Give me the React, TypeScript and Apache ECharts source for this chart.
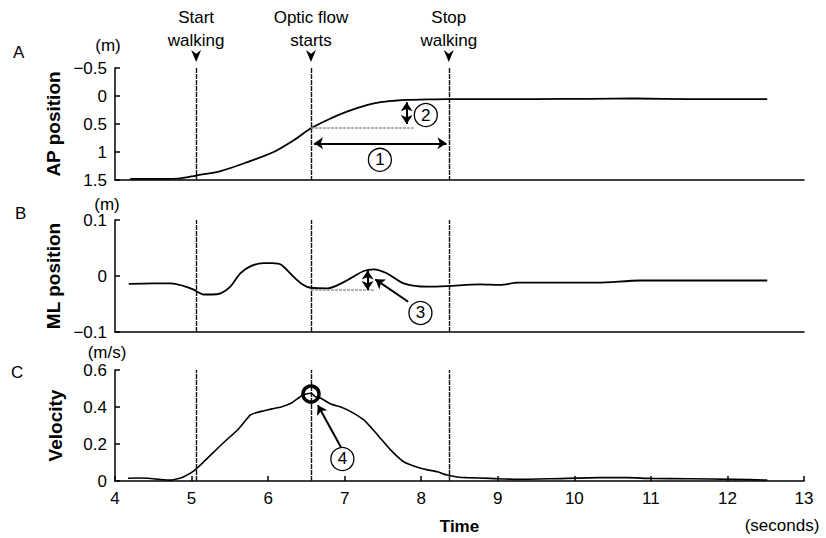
import React, { useEffect, useRef } from "react";
import * as echarts from "echarts";

const FONT = "'Liberation Sans', Arial, Helvetica, sans-serif";

// Event times (seconds)
const eventTimes = [5.06, 6.56, 8.36];
const eventLabels = ["Start\nwalking", "Optic flow\nstarts", "Stop\nwalking"];
const xTicks = { min: 4, max: 13, interval: 1 };

// Panel A: AP position (m), inverted axis
const apPosition: [number, number][] = [
  [4.2, 1.48], [4.6, 1.48], [4.86, 1.47], [5.06, 1.42], [5.38, 1.34], [5.73, 1.18],
  [6.08, 0.995], [6.34, 0.786], [6.56, 0.577], [6.82, 0.4], [7.03, 0.28], [7.3, 0.16],
  [7.47, 0.11], [7.65, 0.085], [7.82, 0.07], [8.1, 0.06], [8.34, 0.055], [9.5, 0.055],
  [10.2, 0.05], [10.8, 0.045], [11.5, 0.055], [12.52, 0.055],
];

// Panel B: ML position (m)
const mlPosition: [number, number][] = [
  [4.18, -0.014], [4.5, -0.013], [4.73, -0.013], [4.9, -0.018], [5.02, -0.024],
  [5.16, -0.033], [5.27, -0.033], [5.38, -0.031], [5.5, -0.02], [5.64, 0.005],
  [5.78, 0.018], [5.94, 0.023], [6.06, 0.023], [6.17, 0.02], [6.33, -0.001],
  [6.45, -0.015], [6.56, -0.021], [6.78, -0.022], [7.0, -0.01], [7.25, 0.009],
  [7.38, 0.012], [7.55, 0.005], [7.77, -0.013], [8.08, -0.019], [8.34, -0.018],
  [8.77, -0.015], [9.03, -0.016], [9.26, -0.012], [9.8, -0.012], [10.3, -0.012],
  [10.86, -0.008], [12.52, -0.008],
];

// Panel C: Velocity (m/s)
const velocity: [number, number][] = [
  [4.17, 0.015], [4.3, 0.016], [4.43, 0.015], [4.6, 0.008], [4.73, 0.005], [4.82, 0.012],
  [4.9, 0.023], [5.03, 0.055], [5.16, 0.104], [5.3, 0.16], [5.43, 0.212], [5.6, 0.276],
  [5.77, 0.357], [5.85, 0.37], [5.95, 0.38], [6.05, 0.39], [6.17, 0.4], [6.3, 0.42],
  [6.4, 0.45], [6.45, 0.465], [6.56, 0.474], [6.62, 0.455], [6.69, 0.447], [6.82, 0.416],
  [6.95, 0.4], [7.08, 0.375], [7.25, 0.33], [7.43, 0.249], [7.6, 0.168], [7.77, 0.104],
  [7.95, 0.074], [8.08, 0.06], [8.21, 0.05], [8.34, 0.032], [8.47, 0.022], [8.6, 0.018],
  [8.9, 0.014], [9.26, 0.009], [9.7, 0.012], [10.34, 0.018], [10.7, 0.018], [10.99, 0.014],
  [11.5, 0.012], [12.07, 0.009], [12.52, 0.005],
];

// Annotation anchors (data coordinates)
const annA = {
  grey: [[6.56, 0.57], [7.9, 0.57]],
  arrow1: [[6.6, 0.845], [8.33, 0.845]],
  circle1: [7.46, 1.14],
  arrow2: [[7.81, 0.11], [7.81, 0.5]],
  circle2: [8.06, 0.34],
};
const annB = {
  grey: [[6.56, -0.024], [7.38, -0.024]],
  arrow3: [[7.3, 0.01], [7.3, -0.025]],
  circle3: [7.99, -0.066],
  pointer3: [[7.83, -0.046], [7.4, -0.006]],
};
const annC = {
  ring: [6.56, 0.47],
  circle4: [6.97, 0.119],
  pointer4: [[6.95, 0.184], [6.65, 0.41]],
};

const fmt = (v: number) => String(Math.round(v * 10) / 10).replace("-", "\u2212");

export default function App() {
  const ref = useRef<HTMLDivElement>(null);
  useEffect(() => {
    document.body.style.margin = "0";
    const chart = echarts.init(ref.current!, undefined, { renderer: "svg" });

    const gridL = 115;
    const gridW = 689;
    const axisLine = { onZero: false, lineStyle: { color: "#000", width: 1.5 } };
    const labelStyle = { color: "#000", fontSize: 17, fontFamily: FONT };
    const nameStyle = { color: "#000", fontSize: 19, fontWeight: "bold" as const, fontFamily: FONT };

    const xBase = (idx: number, showLabels: boolean) => ({
      type: "value" as const,
      gridIndex: idx,
      min: xTicks.min,
      max: xTicks.max,
      interval: xTicks.interval,
      axisLine,
      splitLine: { show: false },
      axisTick: { show: showLabels, inside: true, length: 5, lineStyle: { color: "#000", width: 1.5 } },
      axisLabel: { show: showLabels, ...labelStyle, margin: 9 },
      ...(showLabels
        ? { name: "Time", nameLocation: "middle" as const, nameGap: 37, nameTextStyle: { ...nameStyle, fontSize: 17 } }
        : {}),
    });

    const yBase = (idx: number, min: number, max: number, interval: number, name: string, inverse = false) => ({
      type: "value" as const,
      gridIndex: idx,
      min,
      max,
      interval,
      inverse,
      axisLine: { show: true, lineStyle: { color: "#000", width: 1.5 } },
      splitLine: { show: false },
      axisTick: { show: true, inside: true, length: 5, lineStyle: { color: "#000", width: 1.5 } },
      axisLabel: { ...labelStyle, margin: 8, formatter: (v: number) => fmt(v) },
      name,
      nameLocation: "middle" as const,
      nameRotate: 90,
      nameGap: 50,
      nameTextStyle: nameStyle,
    });

    const eventLine = (lineW = 1.4) => ({
      silent: true,
      symbol: ["none", "none"],
      label: { show: false },
      lineStyle: { color: "#111", width: lineW, type: [5, 1] as any },
      emphasis: { disabled: true },
    });

    const pair = (p: number[][], style: any, s1 = "none", s2 = "none") => [
      { coord: p[0], symbol: s1, lineStyle: style },
      { coord: p[1], symbol: s2 },
    ];

    const greyDash = { color: "#999", width: 1.5, type: [3, 1] };
    const blackArrow = { color: "#000", width: 2, type: "solid" };

    const numCircle = (coord: number[], text: string) => ({
      coord,
      symbol: "circle",
      symbolSize: 23,
      itemStyle: { color: "#fff", borderColor: "#000", borderWidth: 1.3 },
      label: { show: true, position: "inside", formatter: text, color: "#000", fontSize: 17, fontFamily: FONT },
    });

    const option: any = {
      animation: false,
      textStyle: { fontFamily: FONT },
      grid: [
        { left: gridL, top: 68, width: gridW, height: 112 },
        { left: gridL, top: 220, width: gridW, height: 112 },
        { left: gridL, top: 370, width: gridW, height: 111 },
      ],
      xAxis: [xBase(0, false), xBase(1, false), xBase(2, true)],
      yAxis: [
        yBase(0, -0.5, 1.5, 0.5, "AP position", true),
        yBase(1, -0.1, 0.1, 0.1, "ML position"),
        yBase(2, 0, 0.6, 0.2, "Velocity"),
      ],
      graphic: [
        { type: "text", left: 13, top: 44, style: { text: "A", fontSize: 17, fontFamily: FONT, fill: "#000" } },
        { type: "text", left: 15, top: 205, style: { text: "B", fontSize: 17, fontFamily: FONT, fill: "#000" } },
        { type: "text", left: 11, top: 364, style: { text: "C", fontSize: 17, fontFamily: FONT, fill: "#000" } },
        { type: "text", x: 108, y: 45, style: { text: "(m)", fontSize: 17, fontFamily: FONT, fill: "#000", align: "center", verticalAlign: "middle" } },
        { type: "text", x: 107, y: 204, style: { text: "(m)", fontSize: 17, fontFamily: FONT, fill: "#000", align: "center", verticalAlign: "middle" } },
        { type: "text", x: 107, y: 352, style: { text: "(m/s)", fontSize: 17, fontFamily: FONT, fill: "#000", align: "center", verticalAlign: "middle" } },
        { type: "text", x: 782, y: 525, style: { text: "(seconds)", fontSize: 17, fontFamily: FONT, fill: "#000", align: "center", verticalAlign: "middle" } },
      ],
      series: [
        {
          type: "line",
          xAxisIndex: 0,
          yAxisIndex: 0,
          data: apPosition,
          showSymbol: false,
          smooth: 0.3,
          lineStyle: { color: "#000", width: 1.8 },
          silent: true,
          markLine: {
            ...eventLine(),
            data: [
              ...eventTimes.map((t) => ({ xAxis: t })),
              pair(annA.grey, greyDash),
              pair(annA.arrow1, blackArrow, "arrow", "arrow"),
              pair(annA.arrow2, blackArrow, "arrow", "arrow"),
            ],
            symbolSize: 9,
          },
          markPoint: {
            silent: true,
            data: [
              ...eventTimes.map((t, i) => ({
                coord: [t, -0.5],
                symbol: "path://M0,0L5,4L10,0L5,13Z",
                symbolSize: [10, 12],
                symbolOffset: [0, -12],
                itemStyle: { color: "#000" },
                label: {
                  show: true,
                  position: "top",
                  distance: -2,
                  formatter: eventLabels[i],
                  color: "#000",
                  fontSize: 17,
                  lineHeight: 23,
                  fontFamily: FONT,
                },
              })),
              numCircle(annA.circle1, "1"),
              numCircle(annA.circle2, "2"),
            ],
          },
        },
        {
          type: "line",
          xAxisIndex: 1,
          yAxisIndex: 1,
          data: mlPosition,
          showSymbol: false,
          smooth: 0.3,
          lineStyle: { color: "#000", width: 1.8 },
          silent: true,
          markLine: {
            ...eventLine(),
            symbolSize: 9,
            data: [
              ...eventTimes.map((t) => ({ xAxis: t })),
              pair(annB.grey, greyDash),
              pair(annB.arrow3, blackArrow, "arrow", "arrow"),
              pair(annB.pointer3, blackArrow, "none", "arrow"),
            ],
          },
          markPoint: { silent: true, data: [numCircle(annB.circle3, "3")] },
        },
        {
          type: "line",
          xAxisIndex: 2,
          yAxisIndex: 2,
          data: velocity,
          showSymbol: false,
          smooth: 0.2,
          lineStyle: { color: "#000", width: 1.6 },
          silent: true,
          markLine: {
            ...eventLine(),
            symbolSize: 9,
            data: [
              ...eventTimes.map((t) => ({ xAxis: t })),
              pair(annC.pointer4, blackArrow, "none", "arrow"),
            ],
          },
          markPoint: {
            silent: true,
            data: [
              {
                coord: annC.ring,
                symbol: "circle",
                symbolSize: 16,
                itemStyle: { color: "rgba(0,0,0,0)", borderColor: "#000", borderWidth: 3.5 },
                label: { show: false },
              },
              numCircle(annC.circle4, "4"),
            ],
          },
        },
      ],
    };

    chart.setOption(option);
    return () => chart.dispose();
  }, []);

  return <div ref={ref} style={{ width: 826, height: 538 }} />;
}
